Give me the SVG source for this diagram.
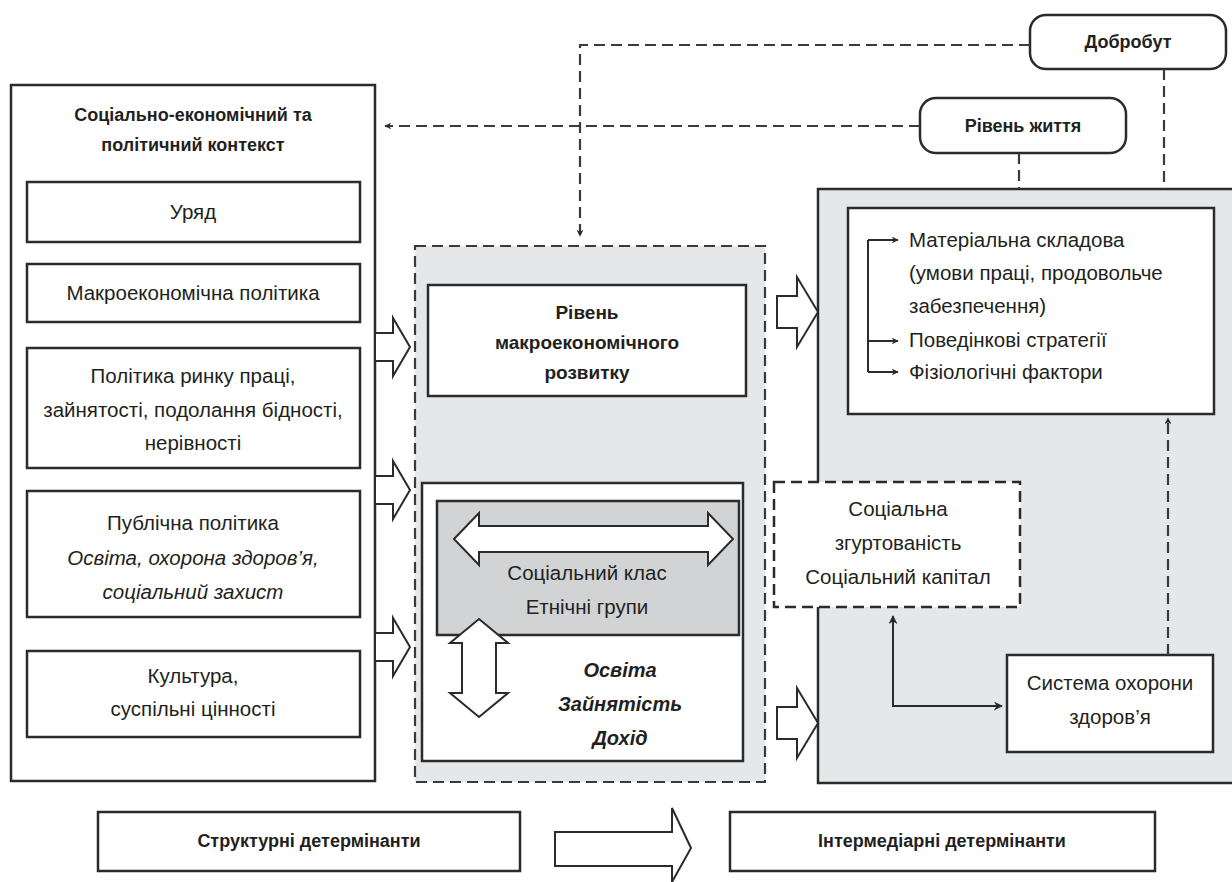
<svg xmlns="http://www.w3.org/2000/svg" width="1232" height="882" viewBox="0 0 1232 882">
<style>
.box{fill:#fff;stroke:#2b2b2b;stroke-width:2.5}
.gray{fill:#e6e7e8}
.dash{fill:none;stroke:#3a3a3a;stroke-width:2.2;stroke-dasharray:11 6}
.ln{fill:none;stroke:#2b2b2b;stroke-width:2}
.harrow{fill:#fff;stroke:#2b2b2b;stroke-width:2;stroke-linejoin:miter}
text{font-family:"Liberation Sans",Arial,sans-serif;fill:#231f20;text-anchor:middle}
.t{font-size:20.5px}
.b{font-size:18px;font-weight:bold}
.bi{font-size:20px;font-weight:bold;font-style:italic}
.i{font-style:italic}
.l{text-anchor:start}
</style>
<defs>
<marker id="ah" viewBox="0 0 10 10" refX="9" refY="5" markerWidth="7" markerHeight="7" orient="auto-start-reverse" markerUnits="userSpaceOnUse">
<path d="M0,0 L10,5 L0,10 L3,5 z" fill="#2b2b2b"/>
</marker>
<marker id="ahs" viewBox="0 0 10 10" refX="9" refY="5" markerWidth="9" markerHeight="9" orient="auto-start-reverse" markerUnits="userSpaceOnUse">
<path d="M0,0 L10,5 L0,10 L3,5 z" fill="#2b2b2b"/>
</marker>
</defs>

<!-- containers -->
<g id="left-context">
<rect class="box" x="11" y="85" width="364" height="696"/>
<text class="b" x="193" y="121">Соціально-економічний та</text>
<text class="b" x="193" y="151">політичний контекст</text>
</g>
<g id="middle-container">
<rect class="gray" x="415" y="246" width="350" height="536"/>
<rect class="dash" x="415" y="246" width="350" height="536"/>
</g>
<g id="right-container">
<rect class="box" style="fill:#e6e7e8" x="818" y="189" width="420" height="594"/>
</g>

<!-- left nodes -->
<g id="uryad">
<rect class="box" x="27" y="182" width="333" height="60"/>
<text class="t" x="193" y="219">Уряд</text>
</g>
<g id="makro-policy">
<rect class="box" x="27" y="264" width="333" height="58"/>
<text class="t" x="193" y="300">Макроекономічна політика</text>
</g>
<g id="labor-policy">
<rect class="box" x="27" y="348" width="333" height="120"/>
<text class="t" x="193" y="383">Політика ринку праці,</text>
<text class="t" x="193" y="417">зайнятості, подолання бідності,</text>
<text class="t" x="193" y="450">нерівності</text>
</g>
<g id="public-policy">
<rect class="box" x="27" y="491" width="333" height="126"/>
<text class="t" x="193" y="530">Публічна політика</text>
<text class="t i" x="193" y="565">Освіта, охорона здоров’я,</text>
<text class="t i" x="193" y="599">соціальний захист</text>
</g>
<g id="culture">
<rect class="box" x="27" y="651" width="333" height="86"/>
<text class="t" x="193" y="683">Культура,</text>
<text class="t" x="193" y="716">суспільні цінності</text>
</g>

<!-- top nodes -->
<g id="dobrobut">
<rect class="box" x="1030" y="15" width="196" height="54" rx="16"/>
<text class="b" x="1128" y="48">Добробут</text>
</g>
<g id="riven-zhyttia">
<rect class="box" x="920" y="98" width="206" height="55" rx="16"/>
<text class="b" x="1023" y="132">Рівень життя</text>
</g>

<!-- middle nodes -->
<g id="macro-level">
<rect class="box" x="428" y="285" width="318" height="111"/>
<text class="b" style="font-size:19px" x="587" y="319">Рівень</text>
<text class="b" style="font-size:19px" x="587" y="349">макроекономічного</text>
<text class="b" style="font-size:19px" x="587" y="379">розвитку</text>
</g>
<g id="social-position">
<rect class="box" x="422" y="483" width="321" height="278"/>
<rect class="box" style="fill:#d1d3d4" x="437" y="501" width="302" height="134"/>
<polygon class="harrow" points="454,539 479,513 479,526 708,526 708,513 733,539 708,565 708,552 479,552 479,565"/>
<text class="t" x="587" y="580">Соціальний клас</text>
<text class="t" x="587" y="614">Етнічні групи</text>
<polygon class="harrow" points="479,619 508,643 496,643 496,693 508,693 479,717 450,693 462,693 462,643 450,643"/>
<text class="bi" x="620" y="677">Освіта</text>
<text class="bi" x="620" y="711">Зайнятість</text>
<text class="bi" x="620" y="745">Дохід</text>
</g>

<!-- right nodes -->
<g id="material">
<rect class="box" x="848" y="208" width="366" height="206"/>
<text class="t l" x="909" y="247">Матеріальна складова</text>
<text class="t l" x="909" y="280">(умови праці, продовольче</text>
<text class="t l" x="909" y="313">забезпечення)</text>
<text class="t l" x="909" y="347">Поведінкові стратегії</text>
<text class="t l" x="909" y="379">Фізіологічні фактори</text>
<path class="ln" d="M868,240 L868,372" />
<path class="ln" d="M868,240 L898,240" marker-end="url(#ah)"/>
<path class="ln" d="M868,341 L898,341" marker-end="url(#ah)"/>
<path class="ln" d="M868,372 L898,372" marker-end="url(#ah)"/>
</g>
<g id="social-cohesion">
<rect class="box" style="stroke-dasharray:11 6" x="774" y="482" width="246" height="125"/>
<text class="t" x="898" y="516">Соціальна</text>
<text class="t" x="898" y="550">згуртованість</text>
<text class="t" x="898" y="584">Соціальний капітал</text>
</g>
<g id="health-system">
<rect class="box" x="1007" y="655" width="206" height="97"/>
<text class="t" x="1110" y="690">Система охорони</text>
<text class="t" x="1110" y="724">здоров’я</text>
</g>

<!-- bottom nodes -->
<g id="structural">
<rect class="box" x="98" y="812" width="422" height="59"/>
<text class="b" x="309" y="847">Структурні детермінанти</text>
</g>
<g id="intermediary">
<rect class="box" x="730" y="812" width="425" height="59"/>
<text class="b" x="942" y="847">Інтермедіарні детермінанти</text>
</g>

<!-- connectors -->
<g id="connectors">
<path class="dash" d="M1030,45 L580,45 L580,236" marker-end="url(#ah)"/>
<path class="dash" d="M920,126 L385,126" marker-end="url(#ah)"/>
<path class="dash" d="M1019,153 L1019,189"/>
<path class="dash" d="M1164,69 L1164,189"/>
<path class="dash" d="M1168,655 L1168,418" marker-end="url(#ah)"/>
<path class="ln" d="M893,616 L893,706 L1002,706" marker-start="url(#ahs)" marker-end="url(#ahs)"/>
<polygon class="harrow" points="375,333 393,333 393,318 410,347 393,376 393,361 375,361"/>
<polygon class="harrow" points="375,476 393,476 393,461 410,490 393,519 393,504 375,504"/>
<polygon class="harrow" points="375,633 393,633 393,618 410,647 393,676 393,661 375,661"/>
<polygon class="harrow" points="777,296 797,296 797,277 818,312 797,347 797,328 777,328"/>
<polygon class="harrow" points="777,707 797,707 797,688 818,723 797,758 797,739 777,739"/>
<polygon class="harrow" points="555,832 672,832 672,808 691,848 672,882 672,866 555,866"/>
</g>
</svg>
